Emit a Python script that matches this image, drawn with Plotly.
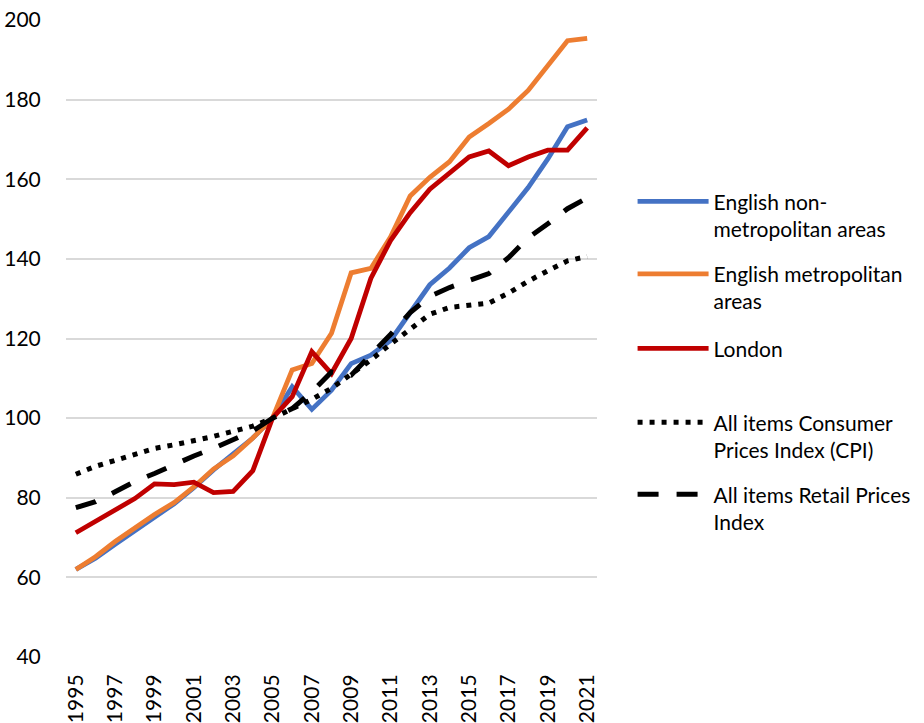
import plotly.graph_objects as go

# House price indices and inflation measures, 2005 = 100
years = list(range(1995, 2022))

non_metro = [62.0, 64.8, 68.3, 71.8, 75.2, 78.5, 82.5, 87.0, 91.0, 95.0, 100.0,
             107.9, 102.2, 107.0, 113.7, 115.8, 119.5, 126.3, 133.5, 137.7, 142.8,
             145.6, 151.6, 157.9, 165.1, 173.2, 174.9]
metro = [62.0, 65.2, 69.0, 72.5, 75.8, 78.8, 82.7, 87.2, 90.5, 95.0, 100.0,
         112.1, 113.7, 121.3, 136.5, 137.6, 145.5, 155.8, 160.5, 164.4, 170.6,
         174.0, 177.6, 182.3, 188.5, 194.8, 195.4]
london = [71.2, 74.0, 76.9, 79.8, 83.5, 83.3, 83.9, 81.3, 81.6, 86.8, 100.0,
          105.4, 116.7, 111.2, 120.0, 135.1, 144.6, 151.6, 157.5, 161.7, 165.6,
          167.1, 163.4, 165.6, 167.3, 167.3, 172.9]
cpi = [85.9, 87.9, 89.4, 90.9, 92.4, 93.3, 94.3, 95.4, 96.7, 98.0, 100.0,
       102.2, 104.7, 107.5, 111.1, 114.6, 118.6, 122.5, 126.1, 127.8, 128.3,
       128.9, 131.4, 134.4, 137.0, 139.5, 140.6]
rpi = [77.5, 79.0, 81.5, 84.1, 86.1, 88.4, 90.5, 92.4, 94.5, 96.8, 100.0,
       102.4, 106.6, 111.6, 110.8, 115.7, 121.0, 126.5, 130.6, 132.8, 134.6,
       136.3, 140.3, 145.3, 148.8, 152.6, 155.3]

series = [
    ("English non-<br>metropolitan areas", non_metro, dict(color="#4472C4", width=4.8)),
    ("English metropolitan<br>areas", metro, dict(color="#ED7D31", width=4.8)),
    ("London", london, dict(color="#C00000", width=4.8)),
    ("All items Consumer<br>Prices Index (CPI)", cpi, dict(color="#000000", width=5, dash="5px,7px")),
    ("All items Retail Prices<br>Index", rpi, dict(color="#000000", width=5, dash="21px,18px")),
]

y_ticks = [40, 60, 80, 100, 120, 140, 160, 180, 200]
x_ticks = list(range(1995, 2022, 2))

font_family = "Lato, Carlito, Calibri, sans-serif"
text_font = dict(family=font_family, size=21, color="#000000")

# one legend box per series so every entry sits on an even vertical rhythm
legend_tops = [0.747, 0.633, 0.516, 0.400, 0.287]
legend_ids = ["legend", "legend2", "legend3", "legend4", "legend5"]

fig = go.Figure()
for (name, vals, line), lid in zip(series, legend_ids):
    fig.add_trace(go.Scatter(x=years, y=vals, name=name, mode="lines",
                             line=line, legend=lid))

legend_layout = {}
for lid, top in zip(legend_ids, legend_tops):
    legend_layout[lid] = dict(
        x=1.067, xanchor="left", y=top, yanchor="top",
        font=text_font, valign="top", itemwidth=71,
        bgcolor="rgba(0,0,0,0)",
    )

fig.update_layout(
    width=924, height=723,
    margin=dict(l=66, r=327, t=20, b=66, autoexpand=False),
    paper_bgcolor="white", plot_bgcolor="white",
    font=text_font,
    showlegend=True,
    xaxis=dict(
        range=[1994.5, 2021.5], tickmode="array", tickvals=x_ticks,
        ticktext=[str(v) for v in x_ticks], tickangle=-90,
        showgrid=False, zeroline=False, showline=False,
        ticks="outside", ticklen=8, tickcolor="rgba(0,0,0,0)",
        tickfont=dict(size=21), automargin=False,
    ),
    yaxis=dict(
        range=[40, 200], tickmode="array", tickvals=y_ticks,
        showgrid=True, gridcolor="#D9D9D9", gridwidth=1.5,
        zeroline=False, showline=False,
        ticks="outside", ticklen=20, tickcolor="rgba(0,0,0,0)",
        tickfont=dict(size=21), automargin=False,
    ),
    **legend_layout,
)

fig.write_html("out.html")
